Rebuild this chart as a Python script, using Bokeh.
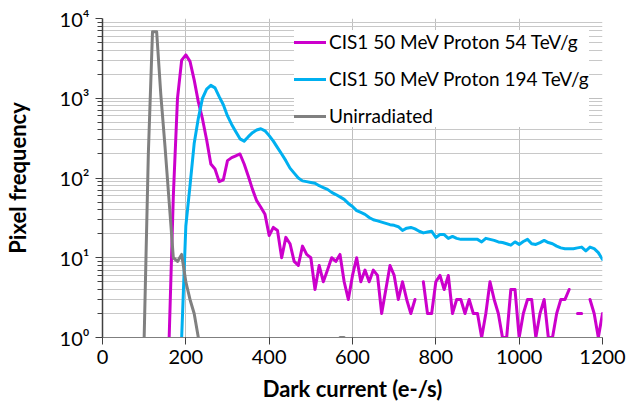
import math
from bokeh.plotting import figure
from bokeh.models import Range1d, FixedTicker, Legend, LegendItem, ColumnDataSource
from bokeh.embed import file_html
from bokeh.resources import INLINE

# ---- data -------------------------------------------------------------
# bin centres (e-/s), 10 e-/s bins from 0 to 1200
dark_current = list(range(0, 1201, 10))

# None = empty bin (not drawn on the log axis)
proton_54 = [None] * 16 + [
    1, 60, 1000, 3000, 3500, 2900, 1700, 900, 550, 300,          # 160-250
    150, 130, 90, 95, 165, 180, 190, 200, 150, 105,              # 260-350
    72, 52, 43, 35, 19, 24, 22, 10, 18, 15,                      # 360-450
    9, 8, 14, 11, 10, 4, 8, 5, 7, 10,                            # 460-550
    9, 11, 5, 3, 6, 10, 5, 7, 5, 7,                              # 560-650
    6, 2, 4, 8, 6, 3, 5, 3, 2, 3,                                # 660-750
    None, 5, 2, 2, 5, 6, 4, 6, 2, 3,                             # 760-850
    3, 2, 3, 2, 2, 1, 2, 5, 3, 2,                                # 860-950
    1, 1, 4, 4, 1, 2, 3, 3, 1, 2,                                # 960-1050
    3, 1, 1, 2, 3, 3, 4, None, 2, 2,                             # 1060-1150
    None, 3, 2, 1, 2,                                            # 1160-1200
]

proton_194 = [None] * 19 + [
    1, 25, 80, 270, 560, 1000, 1300,                             # 190-250
    1450, 1350, 1050, 830, 600, 470, 380, 310, 290, 330,         # 260-350
    370, 400, 415, 390, 340, 290, 240, 200, 165, 133,            # 360-450
    115, 100, 92, 90, 88, 86, 80, 76, 72, 66,                    # 460-550
    62, 58, 54, 48, 44, 39, 37, 35, 32, 30,                      # 560-650
    29, 28, 27, 26, 25.5, 24.5, 22, 23.5, 24, 23,                # 660-750
    21.5, 20.5, 21, 21.5, 18, 19.5, 19.5, 17.5, 18.5, 17.5,      # 760-850
    17, 17, 17, 17, 17, 15.8, 17.5, 17, 16.5, 15.8,              # 860-950
    15.5, 15, 14.4, 15.8, 14.7, 16, 17, 15, 14.7, 15.5,          # 960-1050
    16.5, 15.5, 15, 14, 13.3, 13, 13, 13, 13.3, 13.6,            # 1060-1150
    12.2, 13.6, 13, 11.6, 9.5,                                   # 1160-1200
]

unirradiated = [None] * 10 + [
    1, 200, 6800, 6800, 1100, 250, 50, 10, 9, 11,                # 100-190
    5, 3, 2, 1,                                                  # 200-230
] + [None] * 33 + [1, 1] + [None] * 62                           # 570, 580

series_names = ["CIS1 50 MeV Proton 54 TeV/g",
                "CIS1 50 MeV Proton 194 TeV/g",
                "Unirradiated"]
series_colors = ["#CC00CC", "#00B0F0", "#808080"]

x_ticks = [0, 200, 400, 600, 800, 1000, 1200]
y_ticks = [1, 10, 100, 1000, 10000]
y_tick_labels = ["10\u2070", "10\u00b9", "10\u00b2", "10\u00b3", "10\u2074"]
y_minor = [m * d for d in [1, 10, 100, 1000] for m in range(2, 10)]

assert len(proton_54) == len(dark_current)
assert len(proton_194) == len(dark_current)
assert len(unirradiated) == len(dark_current)

def nan(vals):
    return [float("nan") if v is None else v for v in vals]

# ---- figure -----------------------------------------------------------
FONT = "Lato"
p = figure(width=627, height=410, output_backend="svg", toolbar_location=None,
           x_range=Range1d(0, 1200), y_range=Range1d(1, 10000),
           y_axis_type="log",
           min_border_left=102, min_border_right=25,
           min_border_top=18, min_border_bottom=73)
p.outline_line_color = None
p.background_fill_color = "white"
p.border_fill_color = "white"

# grid
p.xgrid.grid_line_color = "#bfbfbf"
p.ygrid.grid_line_color = "#bfbfbf"
p.ygrid.minor_grid_line_color = "#c8c8c8"

# axes
p.xaxis.ticker = FixedTicker(ticks=x_ticks)
p.yaxis.ticker = FixedTicker(ticks=y_ticks, minor_ticks=y_minor)
p.yaxis.major_label_overrides = {t: lab for t, lab in zip(y_ticks, y_tick_labels)}

for ax in (p.xaxis, p.yaxis):
    ax.major_label_text_font = FONT
    ax.major_label_text_font_size = "20px"
    ax.major_label_text_color = "black"
    ax.axis_label_text_font = FONT
    ax.axis_label_text_font_size = "22px"
    ax.axis_label_text_font_style = "bold"
    ax.axis_label_text_color = "black"
    ax.major_tick_in = 0
    ax.minor_tick_in = 0

p.xaxis.axis_label = "Dark current (e-/s)"
p.yaxis.axis_label = "Pixel frequency"

p.xaxis.axis_line_color = "#7f7f7f"
p.xaxis.major_tick_line_color = "#404040"
p.xaxis.major_tick_out = 7
p.xaxis.minor_tick_line_color = None
p.xaxis.major_label_standoff = 5
p.xaxis.axis_label_standoff = 8

p.yaxis.axis_line_color = "#404040"
p.yaxis.axis_line_width = 1.5
p.yaxis.major_tick_line_color = "#404040"
p.yaxis.minor_tick_line_color = "#404040"
p.yaxis.major_tick_out = 7
p.yaxis.minor_tick_out = 5
p.yaxis.major_label_standoff = 6
p.yaxis.axis_label_standoff = 26

# lines
src = ColumnDataSource(dict(x=dark_current, p54=nan(proton_54),
                            p194=nan(proton_194), unirr=nan(unirradiated)))
renderers = []
for col, color in zip(["p54", "p194", "unirr"], series_colors):
    r = p.line("x", col, source=src, line_color=color, line_width=3,
               line_join="round", line_cap="round")
    renderers.append(r)

legend = Legend(items=[LegendItem(label=n, renderers=[r])
                       for n, r in zip(series_names, renderers)],
                location=(192, 210))
legend.background_fill_color = "white"
legend.background_fill_alpha = 1.0
legend.border_line_color = None
legend.label_text_font = FONT
legend.label_text_font_size = "19px"
legend.label_text_color = "black"
legend.glyph_width = 32
legend.glyph_height = 20
legend.label_height = 20
legend.spacing = 14
legend.padding = 9
legend.label_standoff = 3
legend.margin = 0
p.add_layout(legend)

open("out.html", "w").write(file_html(p, INLINE))
